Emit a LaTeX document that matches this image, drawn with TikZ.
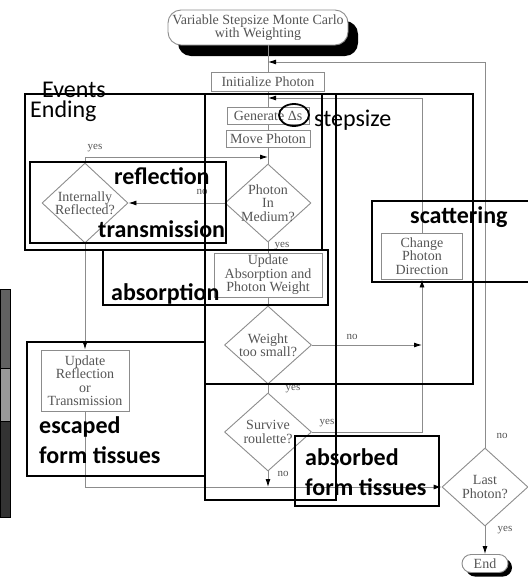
\documentclass[tikz,border=0pt]{standalone}
\usepackage{fontspec}
\usepackage{tikz}
\usetikzlibrary{arrows.meta,shapes.geometric,shadows}
\newfontfamily\flowfont{Liberation Serif}
\newfontfamily\notefont{Carlito}
\definecolor{flowgray}{HTML}{8C8C8C}
\definecolor{flowtext}{HTML}{555555}

\begin{document}
\begin{tikzpicture}[x=1pt, y=-1pt,
  flowbox/.style={rectangle, draw=flowgray, line width=0.9pt, text=flowtext, inner sep=1pt, align=center, font=\flowfont\fontsize{14}{13.5}\selectfont},
  flowdiamond/.style={flowbox, diamond, inner sep=-8pt},
  flowterm/.style={flowbox, rounded corners=13pt, fill=white},
  flowline/.style={draw=flowgray, line width=0.9pt},
  flowarrow/.style={flowline, -{Latex[length=8pt,width=5pt,color=black]}},
  flowlabel/.style={text=flowtext, inner sep=0pt, font=\flowfont\fontsize{11}{11}\selectfont},
  notebox/.style={draw=black, line width=1.8pt},
  notelabel/.style={anchor=base west, inner sep=0pt, align=left, font=\notefont\bfseries\fontsize{24}{29.5}\selectfont},
  notetitle/.style={notelabel, font=\notefont\fontsize{24}{29}\selectfont}]

\useasboundingbox (0,0) rectangle (528,579);

% flowchart
\node[flowterm, minimum width=180pt, minimum height=35pt, drop shadow={shadow xshift=10pt, shadow yshift=-11pt, fill=black, opacity=1}] (start) at (258,27.5) {Variable Stepsize Monte Carlo\\with Weighting};
\node[flowbox, minimum width=113pt, minimum height=19pt] (init) at (268,81.5) {Initialize Photon};
\node[flowbox, minimum width=82pt, minimum height=17pt] (gen) at (268,115.5) {Generate Δs};
\node[flowbox, minimum width=84pt, minimum height=17pt] (move) at (268,138.5) {Move Photon};
\node[flowdiamond, minimum width=86pt, minimum height=78pt] (inmed) at (268,203) {Photon\\In\\Medium?};
\node[flowdiamond, minimum width=86pt, minimum height=80pt] (inrefl) at (85,203) {Internally\\Reflected?};
\node[flowbox, minimum width=108pt, minimum height=44pt] (upabs) at (268,275) {Update\\Absorption and\\Photon Weight};
\node[flowdiamond, minimum width=87pt, minimum height=78pt] (weight) at (268,345) {Weight\\too small?};
\node[flowbox, minimum width=81pt, minimum height=46pt] (change) at (422,256) {Change\\Photon\\Direction};
\node[flowbox, minimum width=88pt, minimum height=61pt] (uprefl) at (85,380.5) {Update\\Reflection\\or\\Transmission};
\node[flowdiamond, minimum width=87pt, minimum height=78pt] (survive) at (268,432) {Survive\\roulette?};
\node[flowdiamond, minimum width=86pt, minimum height=78pt] (last) at (485,487) {Last\\Photon?};
\node[flowterm, rounded corners=9pt, minimum width=46pt, minimum height=18pt, drop shadow={shadow xshift=4pt, shadow yshift=-4pt, fill=black, opacity=1}] (finish) at (485,563.5) {End};

\coordinate (jointop) at (268,62);
\coordinate (joinstep) at (268,98);
\coordinate (joinmove) at (268,157);

\draw[flowline] (init.north |- start.south) -- (init.north);
\draw[flowline] (init) -- (gen);
\draw[flowline] (gen) -- (move);
\draw[flowline] (move) -- (inmed);
\draw[flowline] (inmed) -- (upabs);
\draw[flowline] (upabs) -- (weight);
\draw[flowline] (weight) -- (survive);
\draw[flowarrow] (inmed.west) -- (inrefl.east);
\draw[flowarrow] (inrefl.north) |- (joinmove);
\draw[flowarrow] (inrefl.south) -- (uprefl.north);
\draw[flowarrow] (weight.east) -- (weight.east -| change.south);
\draw[flowarrow] (survive.east) -| (change.south);
\draw[flowarrow] (change.north) |- (joinstep);
\draw[flowarrow] (survive.south) -- (survive.south |- last.west);
\draw[flowarrow] (uprefl.south) |- (last.west);
\draw[flowarrow] (last.north) |- (jointop);
\draw[flowarrow] (last.south) -- (finish.north);

\node[flowlabel] (yesrefl) at (95,148) {yes};
\node[flowlabel] (nomed) at (202,192) {no};
\node[flowlabel] (yesmed) at (282,246) {yes};
\node[flowlabel] (noweight) at (352,337) {no};
\node[flowlabel] (yesweight) at (293,389) {yes};
\node[flowlabel] (yessurv) at (327,423) {yes};
\node[flowlabel] (nosurv) at (283,474) {no};
\node[flowlabel] (nolast) at (502,436) {no};
\node[flowlabel] (yeslast) at (505,530) {yes};

% annotations
\draw[notebox] (25,94) rectangle (322,250);
\draw[notebox] (205,94) rectangle (336,500);
\draw[notebox] (205,94) rectangle (473,384);
\draw[notebox] (30,162) rectangle (226,243);
\draw[notebox] (103,250) rectangle (328,305);
\draw[notebox] (372,201) rectangle (540,282);
\draw[notebox] (27,342) rectangle (205,476);
\draw[notebox] (295,436) rectangle (439,506);
\draw[notebox] (294,115) ellipse [x radius=15pt, y radius=11pt];

\node[notetitle] (events) at (42,97.5) {Events};
\node[notetitle] (ending) at (30,117) {Ending};
\node[notetitle] (stepsize) at (314,126) {stepsize};
\node[notelabel] (reflection) at (114,184.5) {reflection};
\node[notelabel] (transmission) at (98,237) {transmission};
\node[notelabel] (absorption) at (111,300) {absorption};
\node[notelabel] (scattering) at (410,223) {scattering};
\node[notelabel] (escaped) at (39,463) {escaped\\form tissues};
\node[notelabel] (absorbed) at (305,495) {absorbed\\form tissues};

% side bar
\draw[black, line width=0.8pt, fill=black!62] (0,289) rectangle (10.5,368);
\draw[black, line width=0.8pt, fill=black!40] (0,368) rectangle (10.5,421);
\draw[black, line width=0.8pt, fill=black!80] (0,421) rectangle (10.5,517);
\end{tikzpicture}
\end{document}
